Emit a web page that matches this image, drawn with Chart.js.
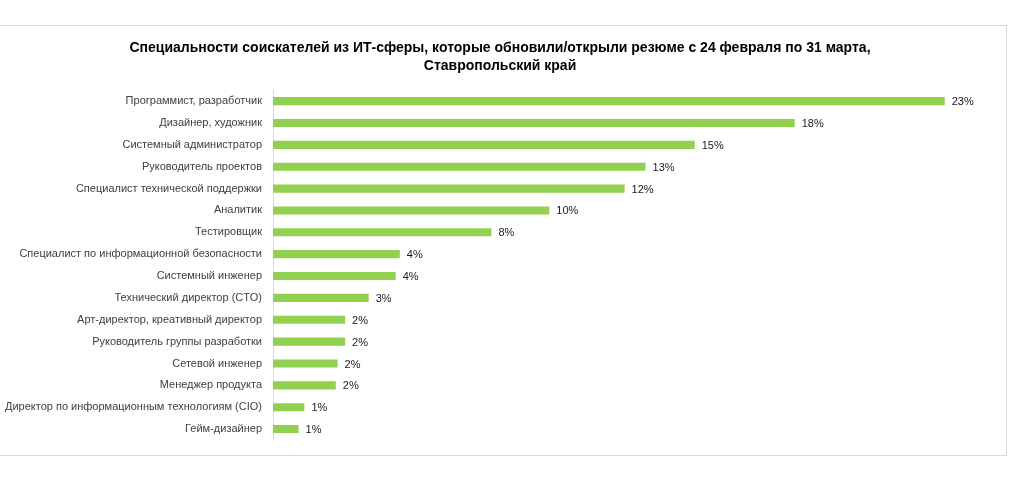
<!DOCTYPE html>
<html>
<head>
<meta charset="utf-8">
<script src="https://cdn.jsdelivr.net/npm/chart.js@4/dist/chart.umd.min.js"></script>
<style>
  body { margin: 0; background: #fff; }
  #box { position: absolute; left: -1px; top: 25px; width: 1006px; height: 429px; border: 1px solid #d9d9d9; }
</style>
</head>
<body>
<div id="box"><canvas id="myChart"></canvas></div>
<script>
const categories = [
   'Программист, разработчик',
   'Дизайнер, художник',
   'Системный администратор',
   'Руководитель проектов',
   'Специалист технической поддержки',
   'Аналитик',
   'Тестировщик',
   'Специалист по информационной безопасности',
   'Системный инженер',
   'Технический директор (CTO)',
   'Арт-директор, креативный директор',
   'Руководитель группы разработки',
   'Сетевой инженер',
   'Менеджер продукта',
   'Директор по информационным технологиям (CIO)',
   'Гейм-дизайнер'
];
const shares = [23.1, 17.94, 14.5, 12.81, 12.09, 9.5, 7.51, 4.36, 4.22, 3.29, 2.48, 2.48, 2.22, 2.16, 1.08, 0.88];
const titleLines = [
   'Специальности соискателей из ИТ-сферы, которые обновили/открыли резюме с 24 февраля по 31 марта,',
   'Ставропольский край'
];

const FONT = "'Liberation Sans', Arial, sans-serif";

// percent labels at the end of each bar
const barLabels = {
   id: 'barLabels',
   afterDatasetsDraw(chart) {
      const ctx = chart.ctx;
      ctx.save();
      ctx.font = '11px ' + FONT;
      ctx.fillStyle = '#1a1a1a';
      ctx.textBaseline = 'middle';
      ctx.textAlign = 'left';
      chart.getDatasetMeta(0).data.forEach((bar, i) => {
         ctx.fillText(Math.round(shares[i]) + '%', bar.x + 7, bar.y + 1);
      });
      ctx.restore();
   }
};

const ctx = document.getElementById('myChart').getContext('2d');
const myChart = new Chart(ctx, {
   type: 'bar',
   data: {
      labels: categories,
      datasets: [{
         data: shares,
         backgroundColor: '#92d050',
         barPercentage: 0.37,
         categoryPercentage: 1
      }]
   },
   options: {
      indexAxis: 'y',
      responsive: true,
      maintainAspectRatio: false,
      animation: false,
      layout: { padding: { top: 0, right: 6, bottom: 15, left: 0 } },
      plugins: {
         legend: { display: false },
         tooltip: { enabled: false },
         title: {
            display: true,
            text: titleLines,
            color: '#000',
            font: { family: FONT, size: 14, weight: 'bold', lineHeight: 1.3 },
            padding: { top: 13, bottom: 14.8 }
         }
      },
      scales: {
         x: {
            display: false,
            min: 0,
            max: 25
         },
         y: {
            afterFit(scale) {
               scale.width = 273;
               scale.paddingTop = 0;
               scale.paddingBottom = 0;
            },
            grid: { display: false, drawTicks: false },
            border: { display: true, color: '#d9d9d9' },
            ticks: {
               padding: 11,
               color: '#404040',
               font: { family: FONT, size: 11 }
            }
         }
      }
   },
   plugins: [barLabels]
});
</script>
</body>
</html>
